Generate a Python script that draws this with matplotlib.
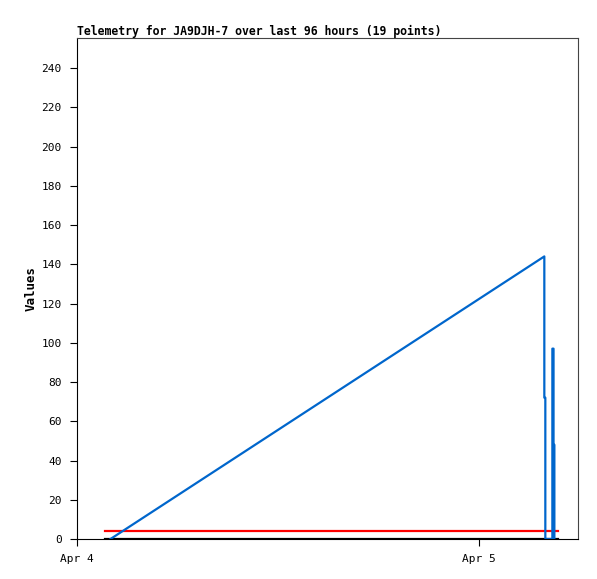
import matplotlib
matplotlib.use("Agg")
import matplotlib.pyplot as plt
import matplotlib.dates as mdates
from datetime import datetime, timedelta

plt.rcParams['font.family'] = ['DejaVu Sans Mono']

start = datetime(2024, 4, 4)

# hours since Apr 4 00:00
blue_hours = [2.0, 27.9, 27.9, 27.96, 27.96, 28.38, 28.38, 28.45, 28.45, 28.5, 28.5]
blue_vals = [0, 144, 72, 72, 0, 0, 97, 97, 48, 48, 0]
red_hours = [1.67, 28.72]
red_vals = [4, 4]
black_hours = [1.67, 28.72]
black_vals = [0, 0]

title = "Telemetry for JA9DJH-7 over last 96 hours (19 points)"

def to_dates(hours):
    return [start + timedelta(hours=h) for h in hours]

fig = plt.figure(figsize=(5.97, 5.79), dpi=100)
ax = fig.add_axes([77/597, 1-539/579, (578-77)/597, (539-38)/579])

ax.plot(to_dates(black_hours), black_vals, color='black', lw=1.6)
ax.plot(to_dates(red_hours), red_vals, color='#ff0000', lw=1.6)
ax.plot(to_dates(blue_hours), blue_vals, color='#0066cc', lw=1.6)

ax.set_xlim(start, start + timedelta(hours=(578-77)/402*24))
ax.set_ylim(0, 255.3)
ax.set_yticks(range(0, 241, 20))
ax.xaxis.set_major_locator(mdates.DayLocator())
ax.xaxis.set_major_formatter(mdates.DateFormatter('%b %-d'))
ax.tick_params(labelsize=8, length=5, direction='out', pad=6)
for s in ax.spines.values():
    s.set_color('#444444')
ax.spines['left'].set_color('black')
ax.spines['bottom'].set_color('black')
ax.set_ylabel("Values", fontsize=9, fontweight='bold', labelpad=3)
ax.set_title(title, fontsize=8.3, fontweight='bold', loc='left', pad=2)

fig.savefig("out.png", dpi=100)
